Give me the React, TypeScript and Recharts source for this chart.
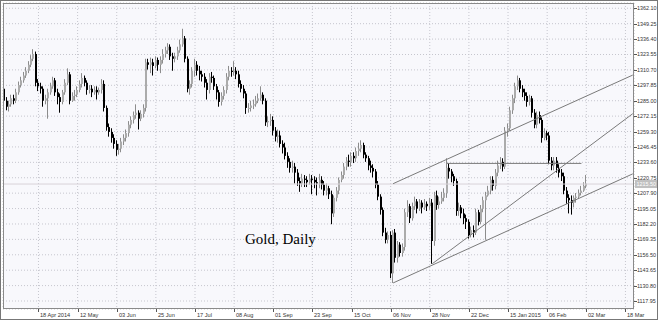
import React from 'react';
import { ComposedChart, Bar, XAxis, YAxis, CartesianGrid, ReferenceLine } from 'recharts';

// Gold daily candles, Apr 2014 - Feb 2015
const opens = [
  1295,1285,1280,1282,1287,1285,1292,1298,1302,1306,1310,1315,1320,1324,1300,1297,
  1295,1285,1287,1292,1297,1302,1292,1288,1284,1292,1300,1307,1285,1289,1290,1294,
  1299,1304,1300,1294,1295,1292,1294,1292,1294,1299,1279,1263,1259,1254,1249,1244,
  1245,1251,1254,1258,1265,1269,1273,1275,1270,1274,1279,1317,1315,1317,1314,1319,
  1315,1319,1324,1327,1330,1322,1320,1322,1327,1332,1337,1320,1295,1299,1310,1315,
  1310,1307,1305,1300,1294,1305,1304,1297,1292,1284,1289,1294,1305,1310,1309,1310,
  1307,1299,1295,1291,1279,1279,1281,1282,1285,1287,1290,1285,1267,1268,1269,1260,
  1255,1256,1249,1246,1239,1234,1229,1230,1225,1218,1216,1220,1219,1217,1220,1219,
  1217,1216,1219,1215,1210,1212,1207,1191,1204,1210,1219,1223,1230,1235,1234,1239,
  1237,1243,1245,1248,1240,1237,1231,1229,1226,1215,1205,1194,1175,1169,1173,1141,
  1175,1154,1165,1158,1163,1192,1197,1187,1197,1201,1195,1200,1196,1199,1197,1200,
  1168,1206,1198,1201,1204,1208,1229,1226,1222,1218,1193,1196,1191,1187,1184,1173,
  1177,1175,1192,1184,1195,1202,1206,1210,1219,1214,1225,1231,1234,1230,1260,1262,
  1277,1287,1297,1302,1295,1292,1289,1284,1287,1275,1265,1273,1269,1254,1258,1256,
  1235,1231,1235,1229,1225,1222,1210,1204,1202,1200,1204,1205,1208,1210,1214,
];
const highs = [
  1298,1288,1285,1290,1290,1295,1301,1305,1309,1313,1318,1323,1328,1326,1303,1300,
  1297,1290,1295,1300,1305,1304,1295,1291,1294,1303,1312,1309,1292,1294,1297,1302,
  1308,1306,1302,1298,1298,1297,1297,1296,1303,1302,1281,1266,1262,1257,1252,1249,
  1254,1257,1261,1268,1272,1276,1282,1277,1277,1282,1320,1320,1321,1320,1322,1321,
  1322,1328,1330,1333,1332,1325,1325,1330,1336,1345,1339,1322,1302,1313,1320,1318,
  1314,1310,1308,1303,1308,1309,1306,1299,1294,1292,1297,1308,1314,1313,1318,1313,
  1310,1302,1298,1293,1283,1285,1286,1289,1291,1297,1292,1287,1272,1274,1272,1263,
  1261,1260,1252,1250,1242,1237,1235,1233,1228,1221,1224,1223,1222,1224,1223,1222,
  1221,1224,1222,1218,1216,1214,1210,1206,1213,1221,1226,1233,1238,1240,1242,1242,
  1246,1250,1252,1250,1242,1239,1235,1232,1228,1218,1207,1196,1179,1176,1176,1177,
  1178,1168,1167,1166,1195,1202,1199,1200,1205,1203,1203,1202,1203,1201,1204,1203,
  1209,1210,1205,1209,1212,1237,1233,1228,1224,1220,1200,1198,1195,1190,1186,1180,
  1181,1195,1194,1198,1205,1209,1214,1222,1222,1228,1235,1238,1237,1263,1266,1280,
  1290,1300,1306,1304,1298,1295,1292,1290,1289,1278,1276,1276,1271,1262,1260,1259,
  1238,1238,1238,1232,1228,1225,1213,1207,1206,1206,1208,1211,1214,1217,1223,
];
const lows = [
  1282,1277,1276,1280,1282,1283,1290,1296,1300,1304,1308,1313,1318,1297,1293,1291,
  1280,1282,1270,1290,1295,1289,1282,1275,1282,1290,1298,1282,1284,1285,1288,1292,
  1296,1297,1290,1291,1288,1290,1286,1290,1291,1276,1260,1255,1250,1245,1239,1240,
  1242,1248,1251,1255,1262,1266,1270,1261,1268,1271,1276,1311,1308,1306,1312,1310,
  1308,1316,1321,1324,1319,1310,1317,1319,1325,1330,1317,1292,1290,1296,1305,1306,
  1302,1301,1296,1286,1291,1300,1294,1286,1280,1281,1286,1291,1302,1305,1306,1303,
  1296,1292,1287,1274,1275,1276,1278,1280,1283,1285,1282,1264,1263,1264,1256,1251,
  1250,1246,1241,1236,1229,1225,1225,1216,1214,1209,1213,1213,1213,1215,1207,1212,
  1206,1212,1211,1206,1206,1203,1182,1188,1201,1207,1217,1220,1227,1230,1230,1233,
  1234,1239,1242,1237,1234,1227,1225,1221,1212,1202,1190,1172,1166,1166,1137,1133,
  1150,1150,1155,1155,1160,1188,1183,1185,1194,1191,1193,1191,1194,1193,1194,1149,
  1164,1194,1195,1199,1201,1204,1220,1217,1214,1189,1189,1187,1182,1178,1170,1171,
  1171,1173,1181,1182,1192,1169,1205,1207,1210,1211,1222,1228,1226,1228,1255,1260,
  1274,1283,1294,1292,1288,1285,1280,1281,1271,1262,1262,1266,1250,1252,1252,1232,
  1227,1227,1225,1221,1218,1207,1199,1191,1190,1196,1200,1203,1206,1209,1212,
];
const closes = [
  1285,1280,1282,1287,1285,1292,1298,1302,1306,1310,1315,1320,1324,1300,1297,1295,
  1285,1287,1292,1297,1302,1292,1288,1284,1292,1300,1307,1285,1289,1290,1294,1299,
  1304,1300,1294,1295,1292,1294,1292,1294,1299,1279,1263,1259,1254,1249,1244,1245,
  1251,1254,1258,1265,1269,1273,1275,1270,1274,1279,1317,1315,1317,1314,1319,1315,
  1319,1324,1327,1330,1322,1320,1322,1327,1332,1337,1320,1295,1299,1310,1315,1310,
  1307,1305,1300,1294,1305,1304,1297,1292,1284,1289,1294,1305,1310,1309,1310,1307,
  1299,1295,1291,1279,1279,1281,1282,1285,1287,1290,1285,1267,1268,1269,1260,1255,
  1256,1249,1246,1239,1234,1229,1230,1225,1218,1216,1220,1219,1217,1220,1219,1217,
  1216,1219,1215,1210,1212,1207,1191,1204,1210,1219,1223,1230,1235,1234,1239,1237,
  1243,1245,1248,1240,1237,1231,1229,1226,1215,1205,1194,1175,1169,1173,1141,1175,
  1154,1165,1158,1163,1192,1197,1187,1197,1201,1195,1200,1196,1199,1197,1200,1168,
  1206,1198,1201,1204,1208,1229,1226,1222,1218,1193,1196,1191,1187,1184,1173,1177,
  1175,1192,1184,1195,1202,1206,1210,1219,1214,1225,1231,1234,1230,1260,1262,1277,
  1287,1297,1302,1295,1292,1289,1284,1287,1275,1265,1273,1269,1254,1258,1256,1235,
  1231,1235,1229,1225,1222,1210,1204,1202,1200,1204,1205,1208,1210,1214,1215.5,
];

// empty future slots to the right of the last candle
const futureSlots = 19;

// x-axis date labels and the bar slot each one sits on
const dateLabels = ['18 Apr 2014','12 May','03 Jun','25 Jun','17 Jul','08 Aug','01 Sep','23 Sep',
  '15 Oct','06 Nov','28 Nov','22 Dec','15 Jan 2015','06 Feb','02 Mar','18 Mar'];
const dateSlots = [14,30,46,62,78,94,110,126,142,158,174,190,206,222,238,254];

// price axis ticks
const priceTicks = [1117.95,1130.80,1143.65,1156.50,1169.35,1182.20,1195.05,1207.90,1220.75,1233.60,
  1246.45,1259.30,1272.15,1285.00,1297.85,1310.70,1323.55,1336.40,1349.25,1362.10];
const priceDomain = [1111.28, 1366.5];

// hand-drawn trend lines: [slotA, priceA, slotB, priceB]
const trendLines = [
  [159, 1215.8, 257, 1306.4],
  [159, 1133.0, 257, 1224.0],
  [175, 1149.0, 257, 1274.2],
  [181, 1232.7, 236, 1232.7],
];

const bid = closes[closes.length - 1];

const data = Array.from({ length: closes.length + futureSlots }, (_, i) =>
  i < closes.length
    ? { i, open: opens[i], high: highs[i], low: lows[i], close: closes[i], range: [lows[i], highs[i]] }
    : { i }
);

const FONT = '"Liberation Sans", Arial, sans-serif';

const Candle = (props: any) => {
  const { x, y, width, height, payload } = props;
  if (!payload || payload.open == null || !isFinite(y) || !isFinite(height)) return <g />;
  const { open, close, high, low } = payload;
  const cx = Math.round(x + width / 2);
  const ppu = high === low ? 0 : height / (high - low);
  const yO = y + (high - open) * ppu;
  const yC = y + (high - close) * ppu;
  const bull = close >= open;
  const top = Math.min(yO, yC);
  const bh = Math.max(1, Math.abs(yO - yC));
  return (
    <g>
      <line x1={cx - 0.5} x2={cx - 0.5} y1={y} y2={y + height} stroke={bull ? '#8c8c8c' : '#000'} strokeWidth={1} />
      <rect x={cx - 1} y={top} width={2} height={bh} fill={bull ? '#ababab' : '#000'} />
    </g>
  );
};

const XTick = (props: any) => {
  const { x, y, payload } = props;
  const k = dateSlots.indexOf(payload.value);
  return (
    <g>
      <line x1={Math.round(x) + 0.5} x2={Math.round(x) + 0.5} y1={y} y2={y + 3} stroke="#555" />
      <text x={Math.round(x) + 2} y={y + 8} fontSize={5.6} fill="#333" fontFamily={FONT}>{dateLabels[k]}</text>
    </g>
  );
};

const YTick = (props: any) => {
  const { x, y, payload } = props;
  return (
    <g>
      <line x1={x} x2={x + 3} y1={Math.round(y) + 0.5} y2={Math.round(y) + 0.5} stroke="#555" />
      <text x={x + 3} y={y + 2} fontSize={5.4} fill="#333" fontFamily={FONT}>{Number(payload.value).toFixed(2)}</text>
    </g>
  );
};

const BidLabel = (props: any) => {
  const vb = props.viewBox || {};
  const x = (vb.x || 0) + (vb.width || 0);
  const y = vb.y || 0;
  return (
    <g>
      <rect x={x + 1} y={y - 4} width={23} height={8} fill="#c0c0c0" />
      <text x={x + 2.5} y={y + 2} fontSize={5.4} fill="#fff" fontFamily={FONT}>{bid.toFixed(2)}</text>
    </g>
  );
};

export default function App() {
  return (
    <div style={{ position: 'absolute', left: 0, top: 0, width: 658, height: 320, background: '#fff', overflow: 'hidden' }}>
      <ComposedChart width={658} height={320} data={data} margin={{ top: 3, right: 0, bottom: 0, left: 3 }}>
        <CartesianGrid stroke="#c6c6ce" strokeDasharray="1 2" fill="#f8f8fc" fillOpacity={1} />
        <XAxis dataKey="i" type="category" ticks={dateSlots} interval={0} height={11}
          tickSize={0} tickMargin={0} tickLine={false} axisLine={false} tick={<XTick />} />
        <YAxis orientation="right" type="number" domain={priceDomain} ticks={priceTicks} interval={0}
          allowDataOverflow width={24} tickSize={0} tickMargin={0} tickLine={false} axisLine={false} tick={<YTick />} />
        <ReferenceLine y={bid} stroke="#d8d2d8" strokeWidth={1} label={<BidLabel />} ifOverflow="visible" />
        <Bar dataKey="range" barSize={3} isAnimationActive={false} shape={(p: any) => <Candle {...p} />} />
        {trendLines.map((t, k) => (
          <ReferenceLine key={k} segment={[{ x: t[0], y: t[1] }, { x: t[2], y: t[3] }]}
            stroke="#7a7a7a" strokeWidth={1} ifOverflow="visible" />
        ))}
      </ComposedChart>
      <div style={{ position: 'absolute', left: 3, top: 3, width: 631, height: 306, border: '1px solid #8a8a8a', boxSizing: 'border-box', pointerEvents: 'none' }} />
      <div style={{ position: 'absolute', left: 0, top: 0, width: 658, height: 320, border: '1px solid #777', boxSizing: 'border-box', pointerEvents: 'none' }} />
      <div style={{ position: 'absolute', left: 245, top: 232, fontFamily: '"Liberation Serif", "Times New Roman", serif', fontSize: 15, lineHeight: '15px', color: '#000', whiteSpace: 'nowrap' }}>Gold, Daily</div>
    </div>
  );
}
